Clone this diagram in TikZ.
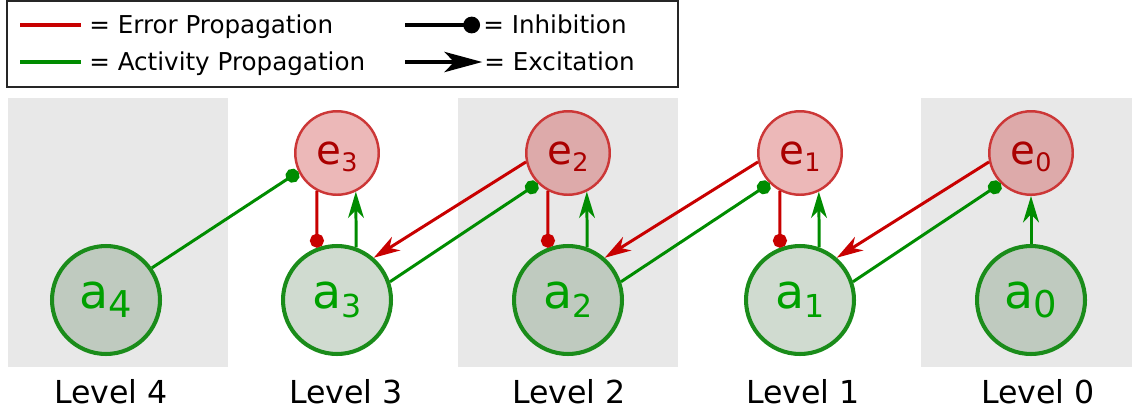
\documentclass[tikz,border=0pt]{standalone}
\usepackage{fontspec}
\setmainfont{DejaVu Sans}
\usepackage{tikz}
\usetikzlibrary{arrows.meta}
\newcommand{\asub}[2][18pt]{a\raisebox{-5.3pt}{\fontsize{#1}{#1}\selectfont #2}}
\newcommand{\esub}[1]{e\raisebox{-4.2pt}{\fontsize{14.5pt}{14.5pt}\selectfont #1}}

\begin{document}
\begin{tikzpicture}[x=0.02cm, y=-0.02cm,
    anode/.style={circle, draw=aborder, line width=2.3pt, fill=afill, fill opacity=0.26,
      text opacity=1, text=atext, inner sep=0pt, minimum size=2.16cm,
      font=\fontsize{27pt}{27pt}\selectfont},
    enode/.style={circle, draw=eborder, line width=1.4pt, fill=efill, fill opacity=0.39,
      text opacity=1, text=etext, inner sep=0pt, minimum size=1.67cm, text depth=0pt,
      font=\fontsize{23pt}{23pt}\selectfont},
    err/.style={draw=lred, line width=1.7pt},
    act/.style={draw=lgreen, line width=1.7pt},
    inh/.style={-{Circle[length=8pt]}},
    exc/.style={-{Stealth[length=15pt, width=9pt, inset=4.5pt]}},
    lvl/.style={anchor=base, font=\fontsize{18pt}{18pt}\selectfont},
    leg/.style={anchor=base west, inner sep=0pt, font=\fontsize{14pt}{14pt}\selectfont}]
    \definecolor{panelgray}{RGB}{232,232,232}
    \definecolor{afill}{RGB}{75,117,75}
    \definecolor{efill}{RGB}{206,73,73}
    \definecolor{aborder}{RGB}{26,140,26}
    \definecolor{atext}{RGB}{0,160,0}
    \definecolor{eborder}{RGB}{204,55,55}
    \definecolor{etext}{RGB}{170,0,0}
    \definecolor{lred}{RGB}{200,0,0}
    \definecolor{lgreen}{RGB}{0,140,0}

    \useasboundingbox (0,0) rectangle (1132,413);

    % gray panels
    \fill[panelgray] (8,98) rectangle (228,367);
    \fill[panelgray] (458,98) rectangle (678,367);
    \fill[panelgray] (921,98) rectangle (1132,367);

    % legend
    \draw[line width=1.1pt, draw=black!85, fill=white] (7,1) rectangle (678,87);
    \coordinate (lerr) at (20,25);
    \coordinate (lact) at (20,62);
    \coordinate (linh) at (405,25);
    \coordinate (lexc) at (405,62);
    \node[leg] (terr) at (89,33) {= Error Propagation};
    \node[leg] (tact) at (89,70) {= Activity Propagation};
    \node[leg] (tinh) at (483,33) {= Inhibition};
    \node[leg] (texc) at (484,70) {= Excitation};
    \draw[err, line width=2.3pt, shorten >=4.5pt] (lerr) -- (lerr -| terr.west);
    \draw[act, line width=2.3pt, shorten >=4.5pt] (lact) -- (lact -| tact.west);
    \draw[line width=2.3pt, -{Circle[length=9.5pt]}, shorten >=1.7pt] (linh) -- (linh -| tinh.west);
    \draw[line width=2.3pt, -{Stealth[length=21.5pt, width=11.5pt, inset=5.5pt]}, shorten >=1pt] (lexc) -- (lexc -| texc.west);

    % activity nodes
    \node[anode] (a4) at (106,300) {\asub[21pt]{4}};
    \node[anode] (a3) at (337,300) {\asub{3}};
    \node[anode] (a2) at (568,300) {\asub{2}};
    \node[anode] (a1) at (800,300) {\asub{1}};
    \node[anode] (a0) at (1031,300) {\asub[21pt]{0}};

    % error nodes
    \node[enode] (e3) at (337,153) {\esub{3}};
    \node[enode] (e2) at (568,153) {\esub{2}};
    \node[enode] (e1) at (800,153) {\esub{1}};
    \node[enode] (e0) at (1031,153) {\esub{0}};

    % level names
    \node[lvl] (l4) at (111,403) {Level 4};
    \node[lvl] (l3) at (346,403) {Level 3};
    \node[lvl] (l2) at (569,403) {Level 2};
    \node[lvl] (l1) at (803,403) {Level 1};
    \node[lvl] (l0) at (1038,403) {Level 0};

    % inside a level
    \draw[err, inh] (e3.242) -- (a3.111);
    \draw[act, exc] (a3.70) -- (e3.296);
    \draw[err, inh] (e2.242) -- (a2.111);
    \draw[act, exc] (a2.70) -- (e2.296);
    \draw[err, inh] (e1.242) -- (a1.111);
    \draw[act, exc] (a1.70) -- (e1.296);
    \draw[act, exc] (a0) -- (e0);

    % between levels
    \draw[act, inh] (a4.35) -- (e3.206);
    \draw[act, inh] (a3.19) -- (e2.225);
    \draw[err, exc] (e2.192) -- (a3.49);
    \draw[act, inh] (a2.19) -- (e1.225);
    \draw[err, exc] (e1.192) -- (a2.49);
    \draw[act, inh] (a1.19) -- (e0.225);
    \draw[err, exc] (e0.192) -- (a1.49);
\end{tikzpicture}
\end{document}
